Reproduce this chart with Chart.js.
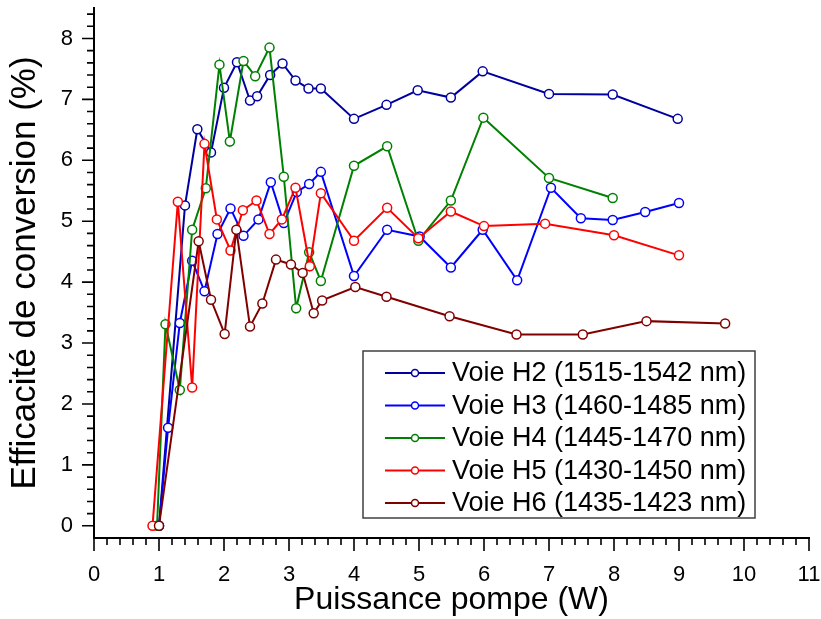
<!DOCTYPE html>
<html><head><meta charset="utf-8">
<script src="https://cdn.jsdelivr.net/npm/chart.js@4"></script>
<style>html,body{margin:0;padding:0;background:#fff}#wrap{width:821px;height:619px;position:relative}</style>
</head><body><div id="wrap"><canvas id="c"></canvas></div>
<script>
const seriesLabels = ['Voie H2 (1515-1542 nm)','Voie H3 (1460-1485 nm)','Voie H4 (1445-1470 nm)','Voie H5 (1430-1450 nm)','Voie H6 (1435-1423 nm)'];
const seriesColors = ['#0000A0','#0000FF','#008000','#FF0000','#800000'];

const h2X = [1.0,1.40,1.59,1.80,2.0,2.20,2.40,2.51,2.71,2.90,3.10,3.30,3.49,4.0,4.50,4.98,5.49,5.98,7.0,7.98,8.98];
const h2Y = [0,5.26,6.51,6.13,7.19,7.61,6.98,7.05,7.40,7.59,7.31,7.18,7.18,6.68,6.91,7.15,7.03,7.46,7.09,7.08,6.68];

const h3X = [1.0,1.14,1.32,1.51,1.70,1.90,2.10,2.30,2.53,2.72,2.92,3.12,3.31,3.49,4.0,4.51,5.01,5.49,5.98,6.51,7.03,7.49,7.98,8.48,9.0];
const h3Y = [0,1.61,3.33,4.35,3.85,4.79,5.21,4.76,5.03,5.64,4.97,5.48,5.61,5.81,4.10,4.86,4.75,4.24,4.86,4.03,5.55,5.05,5.02,5.15,5.30];

const h4X = [0.97,1.10,1.32,1.51,1.72,1.93,2.09,2.30,2.48,2.70,2.92,3.11,3.31,3.49,4.0,4.51,4.99,5.49,5.99,7.0,7.98];
const h4Y = [0,3.31,2.23,4.86,5.54,7.57,6.31,7.63,7.38,7.85,5.73,3.57,4.49,4.02,5.91,6.23,4.68,5.34,6.70,5.71,5.38];

const h5X = [0.90,1.29,1.51,1.70,1.89,2.10,2.29,2.50,2.70,2.89,3.10,3.32,3.49,4.0,4.51,4.99,5.49,6.0,6.94,8.0,9.0];
const h5Y = [0,5.32,2.27,6.27,5.03,4.52,5.18,5.34,4.79,5.03,5.55,4.26,5.46,4.68,5.22,4.72,5.16,4.92,4.96,4.77,4.44];

const h6X = [1.0,1.61,1.80,2.01,2.19,2.40,2.59,2.80,3.03,3.21,3.38,3.51,4.02,4.50,5.47,6.50,7.52,8.5,9.71];
const h6Y = [0,4.67,3.71,3.15,4.86,3.27,3.65,4.37,4.29,4.15,3.49,3.70,3.92,3.76,3.44,3.14,3.14,3.36,3.32];

const xTickLabels = ['0','1','2','3','4','5','6','7','8','9','10','11'];
const yTickLabels = ['0','1','2','3','4','5','6','7','8'];
const xTitle = 'Puissance pompe (W)';
const yTitle = 'Efficacité de conversion (%)';

const allX = [h2X,h3X,h4X,h5X,h6X];
const allY = [h2Y,h3Y,h4Y,h5Y,h6Y];
const FONT = "'Liberation Sans', Arial, Helvetica, sans-serif";

const datasets = allX.map((xs, s) => ({
  label: seriesLabels[s],
  data: xs.map((x, i) => ({x: x, y: allY[s][i]})),
  borderColor: seriesColors[s],
  backgroundColor: '#FFFFFF',
  pointBackgroundColor: '#FFFFFF',
  pointBorderColor: seriesColors[s],
  pointRadius: 4.5,
  pointBorderWidth: 1.5,
  borderWidth: 2,
  tension: 0,
  order: 5 - s,
  clip: false
}));

const tickPlugin = {
  id: 'minorTicks',
  afterDraw(chart) {
    const ctx = chart.ctx, xs = chart.scales.x, ys = chart.scales.y, ca = chart.chartArea;
    ctx.save();
    ctx.strokeStyle = '#000';
    ctx.lineWidth = 1.6;
    ctx.beginPath();
    for (let i = 0; i <= 55; i++) {
      const px = xs.getPixelForValue(i * 0.2);
      const len = (i % 5 === 0) ? 13 : 7;
      ctx.moveTo(px, ca.bottom);
      ctx.lineTo(px, ca.bottom + len);
    }
    for (let i = 0; i <= 42; i++) {
      const py = ys.getPixelForValue(i * 0.2);
      const len = (i % 5 === 0) ? 12 : 7;
      ctx.moveTo(ca.left, py);
      ctx.lineTo(ca.left - len, py);
    }
    ctx.stroke();
    ctx.restore();
  }
};

const legendPlugin = {
  id: 'boxLegend',
  afterDatasetsDraw(chart) {
    const ctx = chart.ctx;
    const bx = 363, by = 351, bw = 392, bh = 167;
    ctx.save();
    ctx.fillStyle = '#fff';
    ctx.fillRect(bx, by, bw, bh);
    ctx.strokeStyle = '#404040';
    ctx.lineWidth = 1.5;
    ctx.strokeRect(bx, by, bw, bh);
    ctx.font = '27px ' + FONT;
    ctx.textBaseline = 'middle';
    ctx.textAlign = 'left';
    seriesLabels.forEach((lab, i) => {
      const y = by + 22 + i * 32.5;
      ctx.strokeStyle = seriesColors[i];
      ctx.lineWidth = 2;
      ctx.beginPath();
      ctx.moveTo(385, y); ctx.lineTo(445, y);
      ctx.stroke();
      ctx.beginPath();
      ctx.arc(415, y, 3.5, 0, Math.PI * 2);
      ctx.fillStyle = '#fff';
      ctx.fill();
      ctx.lineWidth = 1.5;
      ctx.stroke();
      ctx.fillStyle = '#000';
      ctx.fillText(lab, 452, y + 1);
    });
    ctx.restore();
  }
};

new Chart(document.getElementById('c'), {
  type: 'line',
  data: { datasets },
  plugins: [tickPlugin, legendPlugin],
  options: {
    responsive: true,
    maintainAspectRatio: false,
    animation: false,
    layout: { padding: { left: 0, top: 8, right: 12, bottom: 0 } },
    plugins: { legend: { display: false }, tooltip: { enabled: false } },
    scales: {
      x: {
        type: 'linear', min: 0, max: 11,
        grid: { display: false },
        border: { display: true, color: '#000', width: 2 },
        ticks: {
          stepSize: 1, autoSkip: false, maxRotation: 0, padding: 16,
          color: '#000', font: { family: FONT, size: 22 },
          callback: (v) => Number.isInteger(v) ? xTickLabels[v] : ''
        },
        title: { display: true, text: xTitle, color: '#000', font: { family: FONT, size: 32, lineHeight: 1.1 }, padding: { top: 0, bottom: 1 } },
        afterFit(scale) { scale.height = 81; scale.paddingLeft = 0; scale.paddingRight = 0; }
      },
      y: {
        type: 'linear', min: -0.2, max: 8.5,
        grid: { display: false },
        border: { display: true, color: '#000', width: 2 },
        ticks: {
          stepSize: 1, autoSkip: false, padding: 13, includeBounds: false,
          color: '#000', font: { family: FONT, size: 22 },
          callback: (v) => (Number.isInteger(v) && v >= 0 && v <= 8) ? yTickLabels[v] : ''
        },
        title: { display: true, text: yTitle, color: '#000', font: { family: FONT, size: 35, lineHeight: 1.2 }, padding: { top: 4, bottom: 0 } },
        afterFit(scale) { scale.width = 94; scale.paddingTop = 0; scale.paddingBottom = 0; }
      }
    }
  }
});
</script></body></html>
